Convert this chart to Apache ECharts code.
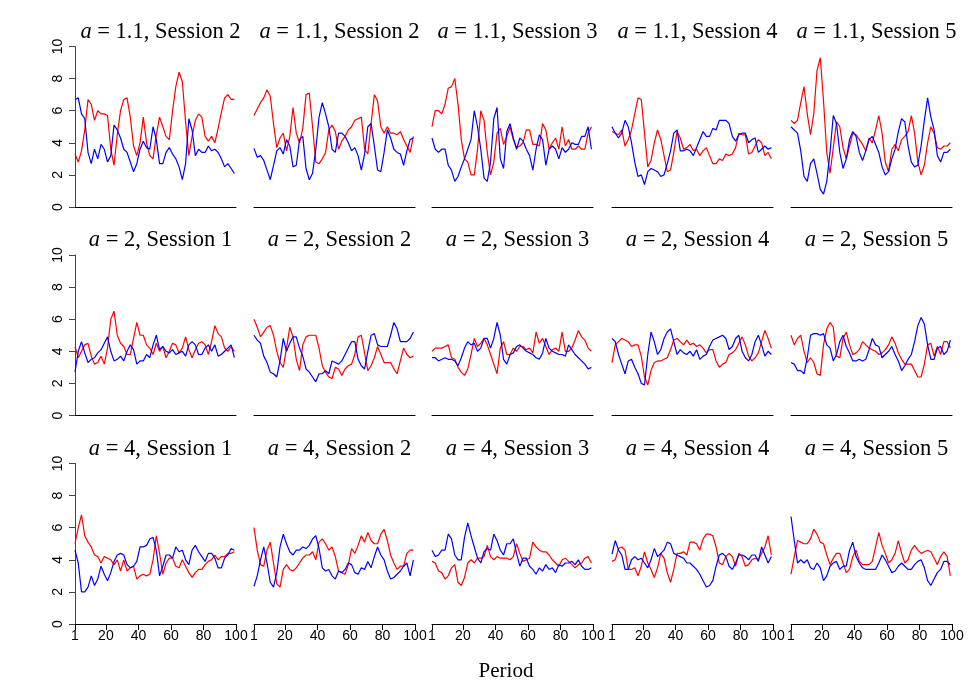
<!DOCTYPE html>
<html>
<head>
<meta charset="utf-8">
<script src="https://cdn.jsdelivr.net/npm/echarts@6/dist/echarts.min.js"></script>
<style>
  html, body { margin: 0; background: #ffffff; }
  #chart { width: 973px; height: 695px; }
</style>
</head>
<body>
<div id="chart"></div>
<script>
// periods sampled every second step
const periods = [1, 3, 5, 7, 9, 11, 13, 15, 17, 19, 21, 23, 25, 27, 29, 31, 33, 35, 37, 39,
  41, 43, 45, 47, 49, 51, 53, 55, 57, 59, 61, 63, 65, 67, 69, 71, 73, 75, 77, 79,
  81, 83, 85, 87, 89, 91, 93, 95, 97, 99]
const xTicks = [1, 20, 40, 60, 80, 100]

// a values per row, session per panel
const rowA = ['1.1', '2', '4']
const sessions = [
  [2, 2, 3, 4, 5],
  [1, 2, 3, 4, 5],
  [1, 2, 3, 4, 5],
]

// row 1: a = 1.1
const p1Blue = [6.7, 6.8, 5.8, 5.5, 3.4, 2.7, 3.6, 3.0, 3.9, 3.6, 2.8, 3.2, 5.1, 4.8, 4.3, 3.6, 3.4, 2.8, 2.2, 2.7, 3.6, 4.1, 3.7, 3.6, 5.0, 4.2, 2.7, 2.7, 3.4, 3.7, 3.3, 3.0, 2.5, 1.7, 2.7, 5.5, 4.8, 3.2, 3.6, 3.4, 3.4, 3.8, 3.5, 3.6, 3.4, 3.0, 2.5, 2.7, 2.4, 2.1]
const p1Red = [3.3, 2.8, 3.5, 4.8, 6.7, 6.4, 5.4, 6.0, 5.8, 5.8, 5.7, 3.6, 2.6, 4.5, 6.0, 6.7, 6.8, 5.6, 3.8, 3.2, 4.0, 5.6, 4.0, 3.2, 3.0, 4.5, 5.6, 5.0, 4.4, 4.2, 6.0, 7.5, 8.4, 7.8, 5.3, 3.2, 4.4, 5.4, 5.8, 5.6, 4.4, 4.1, 4.4, 4.0, 4.9, 5.9, 6.8, 7.0, 6.7, 6.7]
const p2Blue = [3.65, 3.1, 3.2, 2.9, 2.3, 1.7, 2.6, 3.5, 3.7, 3.3, 4.2, 3.8, 2.5, 2.6, 4.2, 4.4, 2.4, 1.7, 2.1, 3.6, 5.6, 6.5, 5.8, 5.0, 3.6, 3.4, 4.6, 4.6, 4.4, 4.0, 3.5, 3.7, 3.2, 2.3, 3.3, 5.0, 5.2, 3.8, 2.3, 2.2, 3.4, 4.8, 4.3, 3.6, 3.4, 3.3, 2.6, 3.5, 4.2, 4.3]
const p2Red = [5.7, 6.1, 6.5, 6.8, 7.3, 6.9, 5.2, 3.7, 4.3, 4.6, 3.5, 4.4, 6.2, 4.6, 4.0, 4.9, 7.0, 7.1, 5.0, 2.8, 2.7, 3.0, 3.4, 4.8, 5.1, 4.7, 3.6, 4.1, 4.4, 4.8, 5.0, 5.4, 5.5, 5.6, 3.6, 3.3, 5.2, 7.0, 6.6, 5.0, 4.6, 5.0, 4.6, 4.6, 4.5, 4.7, 4.2, 3.8, 3.4, 4.4]
const p3Blue = [4.3, 3.6, 3.4, 3.6, 3.6, 2.6, 2.3, 1.6, 1.9, 2.5, 3.0, 3.6, 4.2, 6.0, 5.0, 3.6, 1.8, 1.6, 2.8, 5.5, 6.2, 3.0, 2.4, 4.7, 5.2, 4.3, 3.6, 4.3, 4.1, 3.6, 3.2, 2.3, 3.6, 4.5, 4.2, 2.6, 3.6, 3.8, 3.6, 3.0, 3.7, 3.4, 3.6, 4.0, 3.9, 3.9, 4.4, 4.4, 5.0, 3.6]
const p3Red = [5.0, 6.0, 6.0, 5.8, 6.4, 7.4, 7.5, 8.0, 6.4, 4.2, 3.0, 2.8, 2.0, 2.0, 3.6, 6.0, 5.4, 3.4, 2.0, 2.8, 4.6, 4.9, 3.9, 4.4, 5.0, 4.2, 3.7, 3.8, 4.0, 4.8, 4.8, 3.9, 3.9, 3.8, 5.2, 4.8, 3.6, 4.0, 4.3, 3.6, 5.0, 3.8, 4.2, 3.6, 3.6, 3.8, 3.6, 3.6, 4.6, 5.0]
const p4Blue = [5.0, 4.6, 4.3, 4.6, 5.4, 5.0, 4.0, 2.8, 1.9, 2.0, 1.4, 2.2, 2.4, 2.3, 2.2, 1.9, 2.0, 2.7, 3.5, 4.6, 4.8, 3.5, 3.5, 3.6, 3.5, 3.2, 3.7, 4.2, 4.7, 4.4, 4.4, 4.9, 4.8, 5.4, 5.4, 5.4, 5.2, 4.4, 4.1, 4.5, 4.6, 4.6, 4.0, 4.2, 4.3, 3.4, 3.6, 3.8, 3.6, 3.7]
const p4Red = [4.7, 4.6, 4.5, 4.8, 3.8, 4.2, 4.8, 5.8, 6.8, 6.7, 4.6, 2.5, 2.9, 4.0, 4.8, 4.2, 3.2, 2.2, 2.3, 3.4, 4.7, 4.3, 3.6, 3.7, 3.9, 3.5, 3.6, 3.2, 3.5, 3.7, 3.2, 2.7, 2.7, 3.0, 2.9, 3.3, 3.2, 3.3, 3.7, 4.6, 4.5, 4.5, 3.3, 3.4, 3.8, 4.2, 4.0, 3.2, 3.4, 3.0]
const p5Blue = [5.0, 4.8, 4.6, 3.5, 1.9, 1.6, 2.7, 3.0, 2.1, 1.1, 0.8, 1.6, 3.4, 5.7, 5.2, 3.4, 2.4, 3.0, 4.2, 4.7, 4.4, 3.4, 2.9, 3.5, 4.2, 4.4, 3.9, 3.4, 2.5, 2.0, 2.2, 3.0, 3.6, 4.7, 5.5, 5.3, 3.8, 2.8, 2.5, 2.6, 3.8, 5.4, 6.8, 5.6, 4.8, 3.2, 2.8, 3.4, 3.4, 3.6]
const p5Red = [5.4, 5.2, 5.4, 6.5, 7.5, 5.8, 4.5, 5.8, 8.5, 9.3, 6.6, 3.4, 2.1, 3.7, 5.3, 5.0, 3.7, 3.0, 3.8, 4.6, 4.5, 4.2, 3.9, 3.5, 4.3, 4.0, 4.8, 5.7, 4.6, 2.8, 2.2, 3.6, 3.9, 3.5, 4.2, 4.4, 4.7, 5.7, 4.6, 2.8, 2.0, 2.6, 4.0, 5.0, 4.6, 3.7, 3.6, 3.8, 3.8, 4.0]

// row 2: a = 2
const p6Blue = [2.7, 4.0, 4.6, 3.9, 3.3, 3.5, 3.6, 3.9, 4.1, 4.5, 4.9, 4.0, 3.4, 3.5, 3.7, 3.4, 4.0, 4.4, 4.1, 3.2, 3.4, 3.4, 3.8, 3.6, 4.4, 5.0, 4.1, 4.3, 4.0, 3.9, 4.1, 3.8, 3.9, 4.0, 3.7, 4.4, 4.6, 4.4, 3.8, 3.8, 4.2, 4.4, 4.0, 4.4, 3.7, 3.8, 4.0, 4.2, 4.4, 3.6]
const p6Red = [4.3, 3.6, 4.0, 4.4, 4.5, 3.7, 3.2, 3.3, 3.7, 3.2, 4.2, 6.0, 6.5, 5.0, 4.5, 4.3, 3.8, 3.8, 4.8, 5.8, 5.0, 5.0, 4.4, 4.2, 3.8, 4.5, 4.0, 4.3, 3.6, 4.0, 4.5, 4.4, 3.9, 4.2, 4.9, 4.1, 3.6, 4.1, 4.5, 4.6, 4.4, 3.8, 4.6, 5.6, 5.1, 4.9, 4.2, 4.0, 4.3, 4.0]
const p7Blue = [5.0, 4.7, 4.5, 3.7, 3.3, 2.7, 2.6, 2.4, 3.4, 4.8, 4.0, 4.5, 4.9, 4.9, 4.2, 3.7, 2.9, 2.7, 2.4, 2.1, 2.6, 2.6, 2.8, 2.6, 3.4, 3.3, 3.2, 3.4, 3.8, 4.2, 4.6, 4.6, 3.5, 3.1, 2.9, 4.0, 5.0, 5.1, 4.4, 4.3, 4.3, 4.3, 5.0, 5.8, 5.4, 4.6, 4.6, 4.6, 4.8, 5.2]
const p7Red = [6.0, 5.5, 4.9, 5.2, 5.5, 5.6, 5.0, 4.0, 3.3, 3.0, 4.2, 5.5, 4.9, 3.5, 2.8, 4.4, 4.9, 5.0, 5.0, 5.0, 4.2, 3.1, 2.7, 2.4, 2.3, 3.0, 2.9, 2.5, 2.9, 3.1, 3.2, 3.8, 4.9, 5.0, 3.9, 2.8, 3.1, 3.6, 4.3, 3.8, 3.3, 3.3, 3.3, 2.9, 2.6, 3.4, 4.2, 3.8, 3.6, 3.7]
const p8Blue = [3.6, 3.6, 3.4, 3.5, 3.6, 3.5, 3.5, 3.4, 3.1, 3.6, 4.2, 4.6, 4.4, 4.5, 4.0, 4.2, 4.8, 4.8, 4.2, 4.8, 5.8, 5.0, 3.5, 3.2, 3.8, 3.9, 4.3, 4.4, 4.2, 4.0, 3.9, 3.8, 3.6, 3.5, 3.9, 4.8, 4.2, 4.0, 3.9, 3.8, 3.8, 3.7, 4.4, 4.1, 3.8, 3.6, 3.4, 3.2, 2.9, 3.0]
const p8Red = [4.0, 4.2, 4.2, 4.2, 4.3, 4.4, 3.6, 3.5, 3.0, 2.7, 2.5, 2.9, 3.8, 4.8, 4.3, 4.5, 4.8, 4.4, 3.8, 3.2, 2.6, 4.2, 4.6, 3.8, 3.8, 4.2, 4.0, 4.3, 4.3, 4.1, 4.2, 3.9, 5.2, 4.5, 4.8, 4.3, 3.8, 4.1, 4.2, 4.0, 5.2, 4.0, 4.0, 4.2, 4.7, 5.3, 4.9, 4.7, 4.2, 4.0]
const p9Blue = [4.8, 4.6, 3.8, 3.2, 2.6, 3.4, 3.5, 3.0, 2.6, 2.0, 1.9, 3.8, 5.2, 4.6, 3.8, 4.1, 4.8, 5.2, 5.4, 4.6, 3.8, 4.1, 3.9, 3.8, 4.0, 3.7, 4.1, 3.5, 3.7, 3.8, 4.3, 4.7, 4.8, 4.9, 5.0, 4.8, 4.1, 4.3, 4.8, 5.0, 4.0, 3.6, 3.4, 3.8, 4.6, 5.0, 4.4, 3.7, 4.0, 3.8]
const p9Red = [3.3, 4.4, 4.6, 4.8, 4.7, 4.6, 4.3, 4.4, 4.4, 3.7, 2.4, 1.9, 2.8, 3.3, 3.4, 3.4, 3.5, 3.6, 4.1, 4.7, 4.8, 4.6, 4.4, 4.7, 4.4, 4.5, 4.3, 4.4, 4.2, 3.9, 4.1, 4.1, 3.4, 3.0, 3.2, 3.3, 3.8, 3.9, 4.1, 4.5, 4.9, 4.4, 3.7, 3.4, 3.6, 3.9, 4.6, 5.3, 4.8, 4.2]
const p10Blue = [3.3, 3.2, 2.8, 2.8, 2.6, 3.6, 5.0, 5.1, 5.1, 5.0, 5.1, 4.4, 4.2, 3.4, 3.8, 4.6, 5.0, 4.3, 3.9, 3.4, 3.4, 3.5, 3.4, 3.5, 4.1, 4.8, 4.4, 4.3, 3.6, 3.8, 4.0, 4.3, 3.8, 3.4, 2.8, 3.1, 3.5, 3.8, 4.6, 5.6, 6.1, 5.7, 4.4, 3.5, 3.5, 4.2, 4.3, 3.8, 4.0, 4.7]
const p10Red = [5.0, 4.4, 4.8, 5.0, 4.0, 3.3, 3.6, 3.3, 2.6, 2.5, 4.4, 5.4, 5.8, 5.5, 3.7, 3.6, 4.8, 5.2, 4.4, 3.8, 3.9, 4.1, 4.6, 4.4, 4.2, 4.1, 4.0, 3.8, 3.9, 4.1, 4.4, 4.9, 4.5, 3.9, 3.5, 3.2, 3.2, 3.2, 2.8, 2.4, 2.4, 3.2, 4.4, 4.5, 3.7, 4.3, 3.8, 4.6, 4.6, 4.2]

// row 3: a = 4
const p11Blue = [4.6, 3.8, 2.0, 2.0, 2.3, 3.0, 2.4, 2.8, 3.6, 3.1, 2.7, 3.2, 3.9, 4.3, 4.4, 4.3, 3.7, 3.5, 3.6, 3.9, 4.8, 4.8, 4.9, 5.3, 5.4, 4.6, 3.0, 3.6, 4.3, 4.3, 4.1, 4.8, 4.5, 4.6, 4.0, 3.7, 4.6, 4.9, 4.5, 4.2, 3.9, 4.4, 4.4, 4.1, 3.5, 3.5, 4.1, 4.3, 4.7, 4.6]
const p11Red = [5.0, 6.0, 6.8, 5.5, 5.1, 4.8, 4.3, 4.2, 3.8, 4.2, 4.1, 4.0, 3.7, 4.0, 3.3, 4.0, 3.3, 3.5, 3.6, 2.8, 3.0, 3.1, 3.0, 3.1, 4.0, 5.5, 4.4, 3.1, 3.8, 4.1, 4.1, 3.6, 3.5, 4.0, 3.6, 3.2, 2.9, 3.2, 3.4, 3.4, 3.7, 3.9, 4.0, 4.3, 4.0, 4.2, 4.2, 4.4, 4.4, 4.5]
const p12Blue = [2.35, 3.0, 4.0, 4.8, 3.8, 2.6, 2.3, 3.2, 4.8, 5.6, 5.0, 4.5, 4.3, 4.6, 4.6, 4.8, 4.7, 4.9, 5.3, 5.5, 4.7, 3.5, 3.3, 3.4, 3.0, 2.8, 3.3, 3.2, 3.4, 3.8, 3.7, 3.2, 3.1, 3.5, 3.4, 3.9, 3.5, 4.2, 4.8, 4.3, 4.0, 3.3, 2.8, 2.9, 3.1, 3.3, 3.6, 3.8, 3.0, 4.0]
const p12Red = [6.0, 4.6, 3.7, 3.6, 4.6, 5.1, 3.8, 2.5, 2.3, 3.4, 3.7, 3.4, 3.3, 3.5, 3.8, 4.1, 4.3, 4.3, 4.5, 4.0, 5.1, 5.3, 5.0, 4.6, 4.8, 4.2, 3.3, 3.2, 3.1, 3.7, 4.7, 4.4, 4.9, 5.5, 5.1, 5.7, 5.2, 5.0, 5.0, 5.6, 5.9, 5.2, 4.3, 3.8, 3.4, 3.6, 3.6, 4.4, 4.6, 4.6]
const p13Blue = [4.6, 4.2, 4.3, 4.6, 4.6, 5.6, 5.3, 4.3, 4.0, 4.0, 5.4, 6.3, 5.5, 4.8, 4.1, 3.8, 4.5, 4.7, 4.6, 5.6, 5.2, 4.6, 4.3, 5.0, 5.0, 5.3, 4.4, 3.6, 4.1, 4.1, 3.6, 3.4, 3.1, 3.5, 3.3, 3.7, 3.4, 3.5, 3.2, 3.7, 3.6, 3.8, 3.8, 3.9, 3.7, 4.0, 3.6, 3.4, 3.4, 3.5]
const p13Red = [3.9, 3.8, 3.3, 3.2, 2.8, 3.0, 3.5, 3.7, 2.6, 2.4, 2.9, 3.8, 4.0, 3.8, 4.1, 4.1, 4.2, 4.9, 4.2, 4.0, 4.2, 4.1, 4.1, 4.1, 4.0, 4.2, 5.0, 4.4, 3.9, 4.0, 4.1, 5.1, 4.8, 4.6, 4.5, 4.5, 4.3, 4.0, 3.8, 3.6, 4.0, 4.1, 3.9, 3.7, 3.5, 3.7, 3.8, 4.1, 4.2, 3.8]
const p14Blue = [4.35, 5.2, 4.6, 4.3, 3.4, 3.4, 4.0, 4.2, 4.0, 4.1, 3.8, 3.5, 4.0, 4.7, 4.2, 4.4, 4.6, 5.1, 5.0, 4.4, 4.3, 4.2, 4.1, 3.8, 3.8, 3.6, 3.4, 3.1, 2.7, 2.3, 2.4, 2.7, 3.6, 4.3, 4.4, 4.2, 3.6, 3.4, 3.8, 4.3, 4.3, 4.2, 4.0, 4.3, 4.3, 3.9, 4.8, 4.3, 3.8, 4.2]
const p14Red = [3.9, 4.0, 4.7, 4.8, 4.6, 3.4, 3.4, 3.5, 3.0, 3.6, 4.5, 3.8, 3.4, 2.9, 3.5, 4.4, 4.1, 3.2, 2.6, 3.4, 4.4, 4.4, 4.5, 4.3, 5.1, 5.1, 5.0, 4.6, 5.3, 5.6, 5.6, 5.5, 4.8, 3.8, 3.7, 4.2, 4.4, 4.2, 3.6, 4.4, 4.2, 3.6, 3.7, 4.0, 4.1, 4.0, 4.4, 4.8, 5.5, 4.3]
const p15Blue = [6.7, 5.2, 3.8, 4.0, 3.8, 4.0, 3.5, 3.4, 3.8, 3.5, 2.7, 3.0, 3.6, 3.8, 3.9, 3.4, 3.6, 3.6, 4.6, 5.1, 4.2, 3.8, 3.5, 3.4, 3.4, 3.4, 3.4, 3.8, 4.3, 4.0, 3.6, 3.2, 3.3, 3.6, 3.8, 3.6, 3.4, 3.4, 3.7, 3.9, 4.0, 3.5, 2.7, 2.4, 2.8, 3.2, 3.4, 3.9, 3.9, 3.7]
const p15Red = [3.1, 4.2, 5.2, 5.1, 5.0, 5.0, 5.3, 5.9, 5.6, 5.1, 5.0, 4.3, 3.7, 4.1, 4.4, 4.4, 3.8, 3.2, 3.4, 4.2, 4.6, 3.9, 3.7, 3.7, 3.7, 3.9, 4.8, 5.7, 4.9, 4.4, 3.8, 4.0, 4.4, 5.2, 4.4, 3.8, 4.0, 4.6, 4.9, 4.6, 4.4, 4.5, 4.6, 4.5, 4.1, 3.7, 4.2, 4.5, 4.2, 3.0]

const blueRows = [
  [p1Blue, p2Blue, p3Blue, p4Blue, p5Blue],
  [p6Blue, p7Blue, p8Blue, p9Blue, p10Blue],
  [p11Blue, p12Blue, p13Blue, p14Blue, p15Blue],
]
const redRows = [
  [p1Red, p2Red, p3Red, p4Red, p5Red],
  [p6Red, p7Red, p8Red, p9Red, p10Red],
  [p11Red, p12Red, p13Red, p14Red, p15Red],
]

const colLeft = [75, 254, 432, 612, 791]
const rowTop = [46.5, 255, 463.5]
const panelW = 161
const panelH = 160.5

const serif = '"Liberation Serif", "Times New Roman", serif'
const sans = '"Liberation Sans", Arial, sans-serif'

const grid = []
const xAxis = []
const yAxis = []
const series = []
const title = []

const toPairs = (vals) => periods.map((p, i) => [p, vals[i]])

rowA.forEach((a, r) => {
  sessions[r].forEach((s, c) => {
    const idx = grid.length
    const bottomRow = r === rowA.length - 1
    const firstCol = c === 0

    grid.push({ left: colLeft[c], top: rowTop[r], width: panelW, height: panelH })

    xAxis.push({
      type: 'value',
      gridIndex: idx,
      min: 1,
      max: 100,
      splitLine: { show: false },
      axisLine: { show: true, onZero: false, lineStyle: { color: '#000', width: 1 } },
      axisTick: {
        show: bottomRow,
        customValues: xTicks,
        length: 6,
        lineStyle: { color: '#000' },
      },
      axisLabel: {
        show: bottomRow,
        customValues: xTicks,
        color: '#000',
        fontFamily: sans,
        fontSize: 14,
        margin: 5,
      },
    })

    yAxis.push({
      type: 'value',
      gridIndex: idx,
      min: 0,
      max: 10,
      interval: 2,
      show: firstCol,
      splitLine: { show: false },
      axisLine: { show: true, lineStyle: { color: '#444', width: 1 } },
      axisTick: { show: true, length: 6, lineStyle: { color: '#444' } },
      axisLabel: {
        rotate: 90,
        color: '#000',
        fontFamily: sans,
        fontSize: 14,
        margin: 10,
      },
    })

    title.push({
      text: `{it|a} = ${a}, Session ${s}`,
      left: colLeft[c] + panelW / 2 + 5,
      top: rowTop[r] - 26,
      textAlign: 'center',
      padding: 0,
      textStyle: {
        fontFamily: serif,
        fontSize: 22.5,
        fontWeight: 'normal',
        color: '#000',
        rich: {
          it: { fontFamily: serif, fontSize: 22.5, fontStyle: 'italic', color: '#000' },
        },
      },
    })

    series.push({
      type: 'line',
      xAxisIndex: idx,
      yAxisIndex: idx,
      data: toPairs(redRows[r][c]),
      symbol: 'none',
      lineStyle: { color: '#ff0000', width: 1.2 },
      itemStyle: { color: '#ff0000' },
    })
    series.push({
      type: 'line',
      xAxisIndex: idx,
      yAxisIndex: idx,
      data: toPairs(blueRows[r][c]),
      symbol: 'none',
      lineStyle: { color: '#0000ff', width: 1.2 },
      itemStyle: { color: '#0000ff' },
    })
  })
})

title.push({
  text: 'Period',
  left: 506,
  top: 661,
  textAlign: 'center',
  padding: 0,
  textStyle: { fontFamily: serif, fontSize: 21, fontWeight: 'normal', color: '#000' },
})

const chart = echarts.init(document.getElementById('chart'), null, { renderer: 'canvas' })
chart.setOption({
  backgroundColor: '#ffffff',
  animation: false,
  title,
  grid,
  xAxis,
  yAxis,
  series,
})
</script>
</body>
</html>
